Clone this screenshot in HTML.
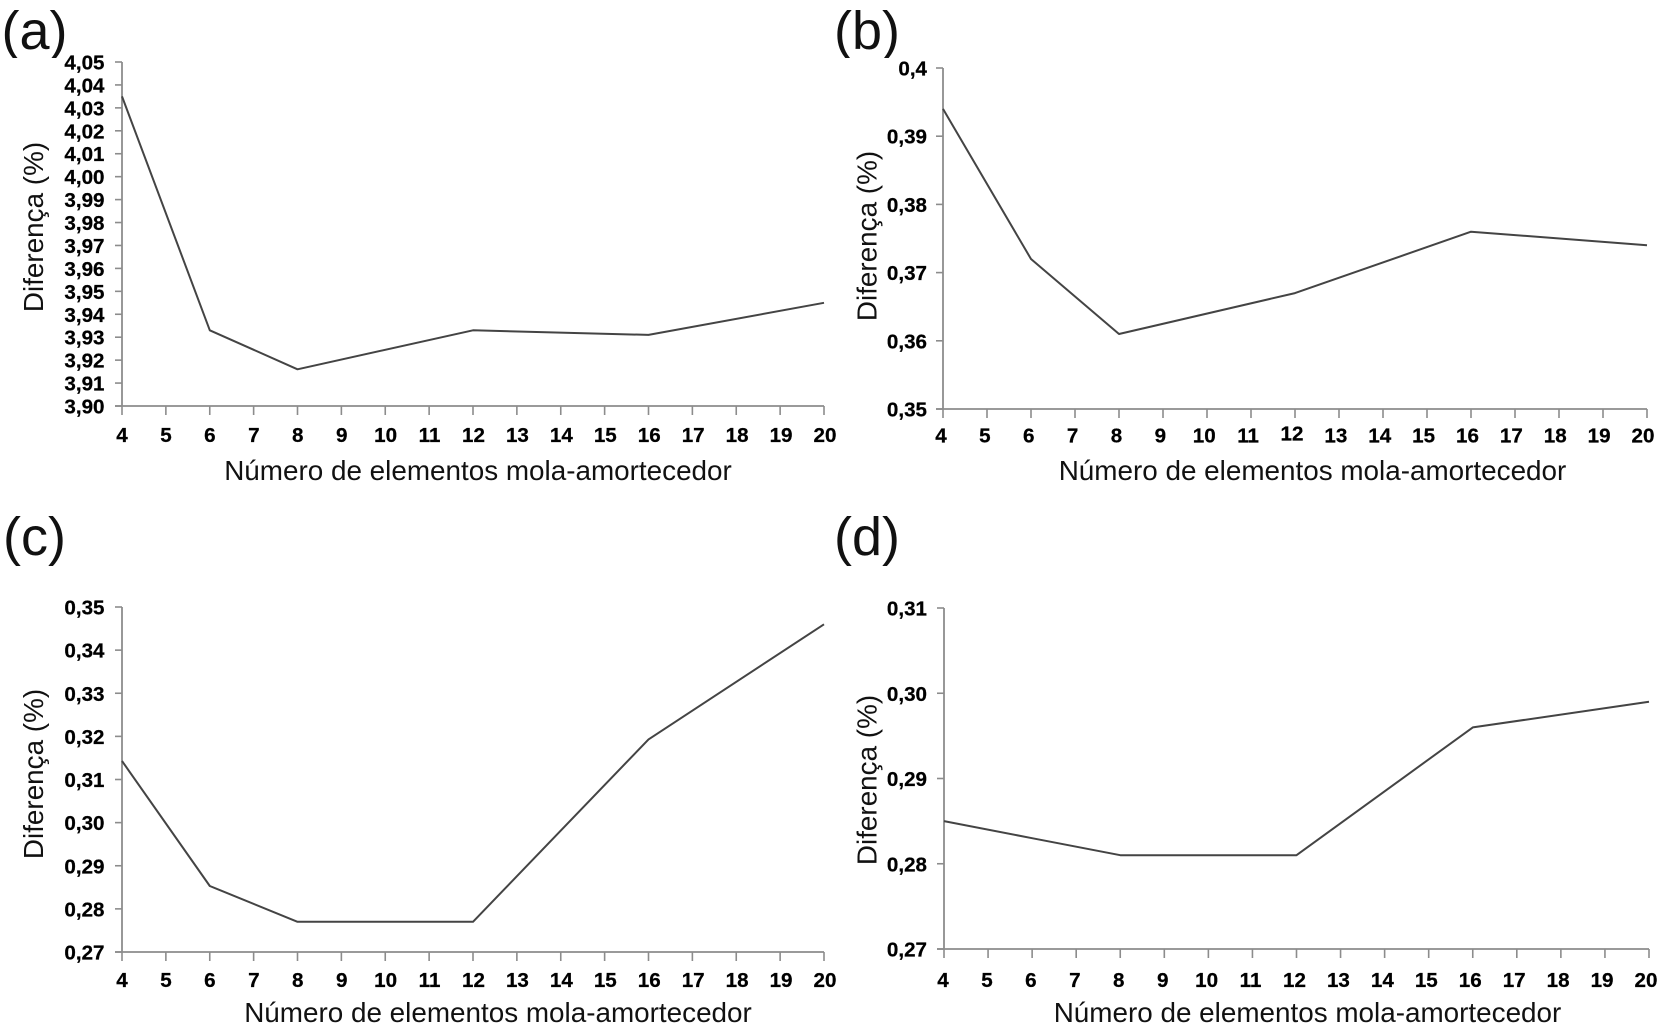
<!DOCTYPE html>
<html lang="pt">
<head>
<meta charset="utf-8">
<title>Diferença (%) por número de elementos mola-amortecedor</title>
<style>
html,body{margin:0;padding:0;background:#fff;}
svg{display:block;}
text{font-family:"Liberation Sans",Arial,sans-serif;fill:#000;}
.tick-label{font-size:20.6px;font-weight:bold;stroke:#000;stroke-width:0.25px;}
.axis-title{font-size:27.85px;fill:#111;}
.panel-letter{font-size:54px;fill:#111;}
</style>
</head>
<body>
<svg id="figure" width="1660" height="1028" viewBox="0 0 1660 1028" xmlns="http://www.w3.org/2000/svg">
  <rect width="1660" height="1028" fill="#fff"/>
  <defs>
    <clipPath id="clip-top"><rect x="0" y="8" width="1660" height="50"/></clipPath>
    <clipPath id="clip-bottom"><rect x="0" y="514" width="1660" height="52"/></clipPath>
  </defs>

  <text class="panel-letter" x="1.5" y="49" clip-path="url(#clip-top)">(a)</text>
  <text class="panel-letter" x="834" y="49" clip-path="url(#clip-top)">(b)</text>
  <text class="panel-letter" x="3" y="555" clip-path="url(#clip-bottom)">(c)</text>
  <text class="panel-letter" x="834" y="555" clip-path="url(#clip-bottom)">(d)</text>

  <text class="axis-title" x="478" y="480" text-anchor="middle">Número de elementos mola-amortecedor</text>
  <text class="axis-title" x="1312.5" y="480" text-anchor="middle">Número de elementos mola-amortecedor</text>
  <text class="axis-title" x="498" y="1022" text-anchor="middle">Número de elementos mola-amortecedor</text>
  <text class="axis-title" x="1307.5" y="1022" text-anchor="middle">Número de elementos mola-amortecedor</text>

  <text class="axis-title" text-anchor="middle" transform="translate(43,227) rotate(-90)">Diferença (%)</text>
  <text class="axis-title" text-anchor="middle" transform="translate(876.5,236) rotate(-90)">Diferença (%)</text>
  <text class="axis-title" text-anchor="middle" transform="translate(43,774) rotate(-90)">Diferença (%)</text>
  <text class="axis-title" text-anchor="middle" transform="translate(876.5,780) rotate(-90)">Diferença (%)</text>
</svg>
<script>
// Data
const xCategories = ['4','5','6','7','8','9','10','11','12','13','14','15','16','17','18','19','20'];
const sampleCounts = [4, 6, 8, 12, 16, 20];

const seriesA = [4.035, 3.933, 3.916, 3.933, 3.931, 3.945];
const seriesB = [0.394, 0.372, 0.361, 0.367, 0.376, 0.374];
const seriesC = [0.3143, 0.2853, 0.277, 0.277, 0.3193, 0.346];
const seriesD = [0.285, 0.283, 0.281, 0.281, 0.296, 0.299];

const yTicksA = ['4,05','4,04','4,03','4,02','4,01','4,00','3,99','3,98','3,97','3,96','3,95','3,94','3,93','3,92','3,91','3,90'];
const yTicksB = ['0,4','0,39','0,38','0,37','0,36','0,35'];
const yTicksC = ['0,35','0,34','0,33','0,32','0,31','0,30','0,29','0,28','0,27'];
const yTicksD = ['0,31','0,30','0,29','0,28','0,27'];

// Plot frames (layout only)
const frameA = {id:'a', left:122, right:824, top:62, bottom:406, labelRight:104.5, labelDrop:36, shiftL:0, shiftR:1};
const frameB = {id:'b', left:943, right:1647, top:68, bottom:409, labelRight:927, labelDrop:33.5, shiftL:-2, shiftR:-4};
const frameC = {id:'c', left:122, right:824, top:607, bottom:952, labelRight:104.5, labelDrop:35, shiftL:0, shiftR:1};
const frameD = {id:'d', left:944, right:1649, top:608, bottom:949, labelRight:927, labelDrop:38, shiftL:-1, shiftR:-3};

const NS = 'http://www.w3.org/2000/svg';
const svg = document.getElementById('figure');
const toNum = s => parseFloat(s.replace(',', '.'));

function make(tag, attrs, parent) {
  const el = document.createElementNS(NS, tag);
  Object.keys(attrs).forEach(k => el.setAttribute(k, attrs[k]));
  parent.appendChild(el);
  return el;
}

function drawPanel(frame, values, yTicks) {
  const g = make('g', {}, svg);
  
  

  const yNums = yTicks.map(toNum);
  const yMax = Math.max.apply(null, yNums);
  const yMin = Math.min.apply(null, yNums);
  const xMin = toNum(xCategories[0]);
  const xMax = toNum(xCategories[xCategories.length - 1]);
  const xScale = v => frame.left + (v - xMin) / (xMax - xMin) * (frame.right - frame.left);
  const yScale = v => frame.bottom - (v - yMin) / (yMax - yMin) * (frame.bottom - frame.top);
  const gray = '#8c8c8c';

  const yAxis = make('line', {x1:frame.left, x2:frame.left, y1:frame.top, y2:frame.bottom, stroke:gray, 'stroke-width':1.8}, g);
  
  

  const xAxis = make('line', {x1:frame.left - 7, x2:frame.right, y1:frame.bottom, y2:frame.bottom, stroke:gray, 'stroke-width':1.8}, g);
  
  

  yTicks.forEach(function (label) {
    const y = yScale(toNum(label));
    const tick = make('line', {x1:frame.left - 7, x2:frame.left, y1:y, y2:y, stroke:gray, 'stroke-width':1.6}, g);
    
    
    const t = make('text', {class:'tick-label', x:frame.labelRight, y:y + 7.5, 'text-anchor':'end'}, g);
    
    
    t.textContent = label;
  });

  xCategories.forEach(function (label) {
    const v = toNum(label);
    const x = xScale(v);
    const tick = make('line', {x1:x, x2:x, y1:frame.bottom, y2:frame.bottom + 9, stroke:gray, 'stroke-width':1.6}, g);
    
    
    const raised = frame.id === 'b' && label === '12' ? 2 : 0;
    const frac = (v - xMin) / (xMax - xMin);
    const shift = frame.shiftL + (frame.shiftR - frame.shiftL) * frac;
    const t = make('text', {class:'tick-label', x:x + shift, y:frame.bottom + frame.labelDrop - raised, 'text-anchor':'middle'}, g);
    
    
    t.textContent = label;
  });

  const pts = values.map((v, i) => xScale(sampleCounts[i]).toFixed(1) + ',' + yScale(v).toFixed(1)).join(' ');
  const line = make('polyline', {points:pts, fill:'none', stroke:'#444', 'stroke-width':2, 'stroke-linejoin':'round'}, g);
  
  
}

drawPanel(frameA, seriesA, yTicksA);
drawPanel(frameB, seriesB, yTicksB);
drawPanel(frameC, seriesC, yTicksC);
drawPanel(frameD, seriesD, yTicksD);
</script>
</body>
</html>
